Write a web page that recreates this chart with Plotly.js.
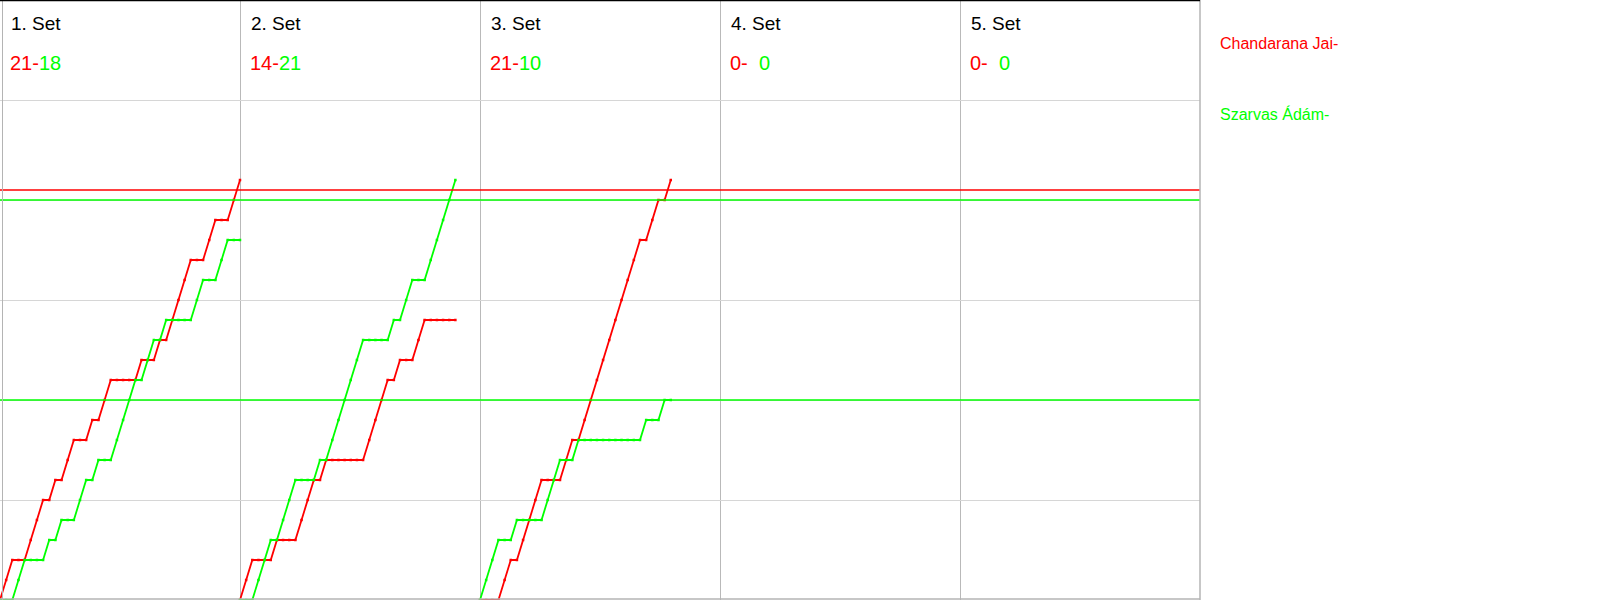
<!DOCTYPE html>
<html>
<head>
<meta charset="utf-8">
<script src="https://cdn.plot.ly/plotly-3.0.1.min.js"></script>
<style>html,body{margin:0;padding:0;background:#fff;}#chart{width:1600px;height:600px;}</style>
</head>
<body>
<div id="chart"></div>
<script>
// ---- data ----
const playerRed = "Chandarana Jai-";
const playerGreen = "Szarvas Ádám-";
const setLabels = ["1. Set", "2. Set", "3. Set", "4. Set", "5. Set"];
const setScoreRed = [21, 14, 21, 0, 0];
const setScoreGreen = [18, 21, 10, 0, 0];

// cumulative score after each rally
const set1Red   = [0,1,2,2,2,3,4,5,5,6,6,7,8,8,8,9,9,10,11,11,11,11,11,12,12,12,13,13,14,15,16,17,17,17,18,19,19,19,20,21];
const set1Green = [0,0,0,1,2,2,2,2,3,3,4,4,4,5,6,6,7,7,7,8,9,10,11,11,12,13,13,14,14,14,14,14,15,16,16,16,17,18,18,18];
const set2Red   = [0,1,2,2,2,2,3,3,3,3,4,5,6,6,7,7,7,7,7,7,7,8,9,10,11,11,12,12,12,13,14,14,14,14,14,14];
const set2Green = [0,0,0,1,2,3,3,4,5,6,6,6,6,7,7,8,9,10,11,12,13,13,13,13,13,14,14,15,16,16,16,17,18,19,20,21];
const set3Red   = [0,0,0,0,1,2,2,3,4,5,6,6,6,6,7,8,8,9,10,11,12,13,14,15,16,17,18,18,19,20,20,21];
const set3Green = [0,1,2,3,3,3,4,4,4,4,4,5,6,7,7,7,8,8,8,8,8,8,8,8,8,8,8,9,9,9,10,10];

const redLevels = [20.5];
const greenLevels = [20, 10];

// ---- chart ----
const RED = "#ff0000", GREEN = "#00ff00";
const redSets = [set1Red, set2Red, set3Red];
const greenSets = [set1Green, set2Green, set3Green];
const colWidth = Math.max(...redSets.map(a => a.length - 1)); // rallies per column
const nCols = setLabels.length;

const traces = [];
function addTrace(arr, setIdx, color) {
  traces.push({
    type: "scatter", mode: "lines+markers",
    x: arr.map((v, i) => setIdx * colWidth + i),
    y: arr,
    line: {color: color, width: 1.8},
    marker: {color: color, size: 2.5, symbol: "square"},
    hoverinfo: "skip", showlegend: false, cliponaxis: false
  });
}
redSets.forEach((a, i) => addTrace(a, i, RED));
greenSets.forEach((a, i) => addTrace(a, i, GREEN));

const W = 1200, H = 600;
const shapes = [];
redLevels.forEach(v => shapes.push({type: "line", xref: "paper", yref: "y", x0: 0, x1: 1, y0: v, y1: v, line: {color: RED, width: 1.5}}));
greenLevels.forEach(v => shapes.push({type: "line", xref: "paper", yref: "y", x0: 0, x1: 1, y0: v, y1: v, line: {color: GREEN, width: 1.5}}));
// frame
shapes.push({type: "line", xref: "paper", yref: "paper", x0: 2.5/W, x1: 2.5/W, y0: 0, y1: 1, line: {color: "#b4b4b4", width: 1}});
shapes.push({type: "line", xref: "paper", yref: "paper", x0: 1, x1: 1, y0: 0, y1: 1, line: {color: "#b4b4b4", width: 1.5}});
shapes.push({type: "line", xref: "paper", yref: "paper", x0: 0, x1: 1, y0: 1/H, y1: 1/H, line: {color: "#b4b4b4", width: 1.5}});
shapes.push({type: "line", xref: "paper", yref: "paper", x0: 0, x1: 1, y0: 1 - 0.5/H, y1: 1 - 0.5/H, line: {color: "#000000", width: 1.5}});

const font = "Liberation Sans, Arial, sans-serif";
const annotations = [];
setLabels.forEach((lab, i) => {
  annotations.push({xref: "paper", yref: "paper", x: (i * 240 + 9) / W, y: 1 - 23.5 / H, xanchor: "left", yanchor: "middle",
    text: lab, showarrow: false, font: {family: font, size: 19, color: "#000"}});
  const g = setScoreGreen[i] < 10 ? "\u2007" + setScoreGreen[i] : "" + setScoreGreen[i];
  annotations.push({xref: "paper", yref: "paper", x: (i * 240 + 8) / W, y: 1 - 63 / H, xanchor: "left", yanchor: "middle",
    text: '<span style="color:' + RED + '">' + setScoreRed[i] + '-</span><span style="color:' + GREEN + '">' + g + '</span>',
    showarrow: false, font: {family: font, size: 20, color: RED}});
});
annotations.push({xref: "paper", yref: "paper", x: 1218 / W, y: 1 - 43.5 / H, xanchor: "left", yanchor: "middle",
  text: playerRed, showarrow: false, font: {family: font, size: 16, color: RED}});
annotations.push({xref: "paper", yref: "paper", x: 1218 / W, y: 1 - 114.5 / H, xanchor: "left", yanchor: "middle",
  text: playerGreen, showarrow: false, font: {family: font, size: 16, color: GREEN}});

const layout = {
  width: 1600, height: 600,
  margin: {l: 0, r: 400, t: 0, b: 0, pad: 0},
  paper_bgcolor: "#fff", plot_bgcolor: "#fff",
  showlegend: false,
  xaxis: {range: [0, colWidth * nCols], dtick: colWidth, tick0: 0, showgrid: true, gridcolor: "#b9b9b9", gridwidth: 1,
          zeroline: false, showticklabels: false, ticks: "", fixedrange: true},
  yaxis: {range: [0, 30], dtick: 5, tick0: 0, showgrid: true, gridcolor: "#d6d6d6", gridwidth: 1,
          zeroline: false, showticklabels: false, ticks: "", fixedrange: true},
  shapes: shapes,
  annotations: annotations
};
Plotly.newPlot("chart", traces, layout, {displayModeBar: false, staticPlot: true});
</script>
</body>
</html>
